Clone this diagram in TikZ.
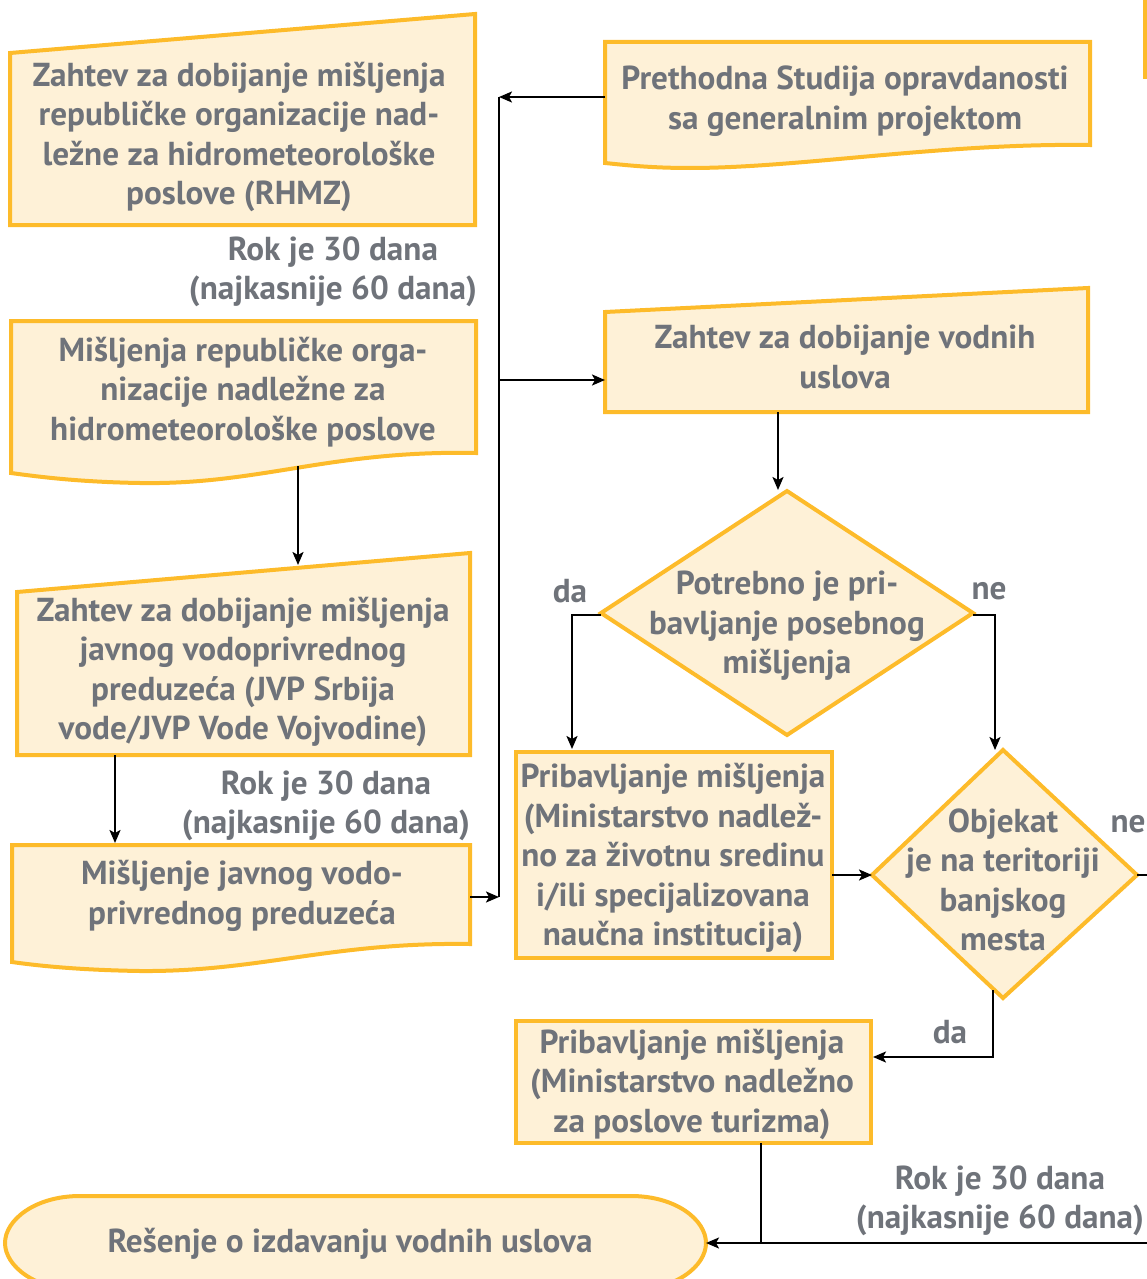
\documentclass[tikz,border=0pt]{standalone}
\usepackage{fontspec}
\setmainfont{PT Sans}
\usetikzlibrary{arrows.meta}
\definecolor{yb}{HTML}{FDBB2A}
\definecolor{yf}{HTML}{FEF1D7}
\definecolor{tg}{HTML}{6F737A}
\begin{document}
\begin{tikzpicture}[x=1pt,y=-1pt,
  shp/.style={draw=yb,fill=yf,line width=4pt,line join=miter},
  txt/.style={text=tg,font=\fontsize{33.2}{39.5}\selectfont\bfseries,align=center,inner sep=0pt},
  arr/.style={line width=2.2pt,-{Stealth[length=13pt,width=11pt,inset=3pt]}},
  ln/.style={line width=2.2pt}]
\useasboundingbox (0,0) rectangle (1147,1279);

% top-right partial shape
\draw[yb,line width=4pt] (1145,0) -- (1145,79);

% A: manual input
\draw[shp] (10,53) -- (475,14) -- (475,225) -- (10,225) -- cycle;
\node[txt] (A) at (239,137) {Zahtev za dobijanje mišljenja\\republičke organizacije nad-\\ležne za hidrometeorološke\\poslove (RHMZ)};
\node[txt] (r1) at (333,272) {Rok je 30 dana\\(najkasnije 60 dana)};

% B: document
\draw[shp] (11,321) -- (476,321) -- (476,453) .. controls (330,450) and (260,485) .. (140,483) .. controls (80,482) and (40,477) .. (11,473) -- cycle;
\node[txt] (B) at (243,392) {Mišljenja republičke orga-\\nizacije nadležne za\\hidrometeorološke poslove};

% C: manual input
\draw[shp] (17,592) -- (470,553) -- (470,755) -- (17,755) -- cycle;
\node[txt] (C) at (243,672) {Zahtev za dobijanje mišljenja\\javnog vodoprivrednog\\preduzeća (JVP Srbija\\vode/JVP Vode Vojvodine)};
\node[txt] (r2) at (326,806) {Rok je 30 dana\\(najkasnije 60 dana)};

% D: document
\draw[shp] (12,845) -- (470,845) -- (470,944) .. controls (330,942) and (260,972) .. (140,971) .. controls (80,970) and (40,966) .. (12,962) -- cycle;
\node[txt] (D) at (242,896) {Mišljenje javnog vodo-\\privrednog preduzeća};

% E: document
\draw[shp] (605,42) -- (1090,42) -- (1090,145) .. controls (940,143) and (800,168) .. (690,168) .. controls (650,168) and (625,165) .. (605,163) -- cycle;
\node[txt] (E) at (845,101) {Prethodna Studija opravdanosti\\sa generalnim projektom};

% F: manual input
\draw[shp] (605,312) -- (1088,288) -- (1088,412) -- (605,412) -- cycle;
\node[txt] (F) at (845,357) {Zahtev za dobijanje vodnih\\uslova};

% G: decision
\draw[shp] (787,491) -- (973,613) -- (787,735) -- (601,613) -- cycle;
\node[txt] (G) at (787,626) {Potrebno je pri-\\bavljanje posebnog\\mišljenja};
\node[txt] (da1) at (570,591) {da};
\node[txt] (ne1) at (989,591) {ne};

% H
\node[shp,txt,draw=yb,line width=4pt,minimum width=316pt,minimum height=206pt] (H) at (674,855) {};
\node[txt] (Ht) at (673,858) {Pribavljanje mišljenja\\(Ministarstvo nadlež-\\no za životnu sredinu\\i/ili specijalizovana\\naučna institucija)};

% I: decision
\draw[shp] (1003,750) -- (1137,875) -- (1003,998) -- (872,875) -- cycle;
\node[txt] (I) at (1003,880) {Objekat\\je na teritoriji\\banjskog\\mesta};
\node[txt] (ne2) at (1128,824) {ne};
\node[txt] (da2) at (950,1032) {da};

% J
\node[shp,txt,draw=yb,line width=4pt,minimum width=355pt,minimum height=122pt] (J) at (693.5,1082) {};
\node[txt] (Jt) at (692,1084) {Pribavljanje mišljenja\\(Ministarstvo nadležno\\za poslove turizma)};
\node[txt] (r3) at (1000,1201) {Rok je 30 dana\\(najkasnije 60 dana)};

% K: terminal
\draw[shp] (80,1196) -- (631,1196) .. controls (676,1196) and (706,1220) .. (706,1243) .. controls (706,1266) and (676,1290) .. (631,1290) -- (80,1290) .. controls (35,1290) and (5,1266) .. (5,1243) .. controls (5,1220) and (35,1196) .. (80,1196) -- cycle;
\node[txt] (K) at (350,1244) {Rešenje o izdavanju vodnih uslova};

% connector coordinates
\coordinate (bus1) at (499,97);
\coordinate (bus2) at (499,380);
\coordinate (bus3) at (499,897);
\coordinate (Eleft) at (605,97);
\coordinate (Fleft) at (605,380);
\coordinate (Dright) at (470,897);
\coordinate (Bbot) at (298,466);
\coordinate (Ctop) at (298,565);
\coordinate (Cbot) at (115,755);
\coordinate (Dtop) at (115,843);
\coordinate (Fbot) at (778,412);
\coordinate (Gtop) at (778,490);
\coordinate (Gl) at (601,615);
\coordinate (Gr) at (973,615);
\coordinate (Htop) at (572,749);
\coordinate (Itop) at (995,750);
\coordinate (Hr) at (832,875);
\coordinate (Il) at (872,875);
\coordinate (Ir) at (1137,875);
\coordinate (edge1) at (1147,875);
\coordinate (Ib) at (993,990);
\coordinate (Jr) at (873,1057);
\coordinate (Jb) at (761,1143);
\coordinate (join) at (761,1243);
\coordinate (edge2) at (1147,1243);
\coordinate (Kr) at (706,1243);

% connectors
\draw[ln] (bus1) -- (bus3);
\draw[arr] (Eleft) -- (bus1);
\draw[arr] (bus2) -- (Fleft);
\draw[arr] (Dright) -- (bus3);
\draw[arr] (Bbot) -- (Ctop);
\draw[arr] (Cbot) -- (Dtop);
\draw[arr] (Fbot) -- (Gtop);
\draw[arr] (Gl) -| (Htop);
\draw[arr] (Gr) -| (Itop);
\draw[arr] (Hr) -- (Il);
\draw[ln] (Ir) -- (edge1);
\draw[arr] (Ib) |- (Jr);
\draw[ln] (Jb) -- (join);
\draw[arr] (edge2) -- (Kr);
\end{tikzpicture}
\end{document}
